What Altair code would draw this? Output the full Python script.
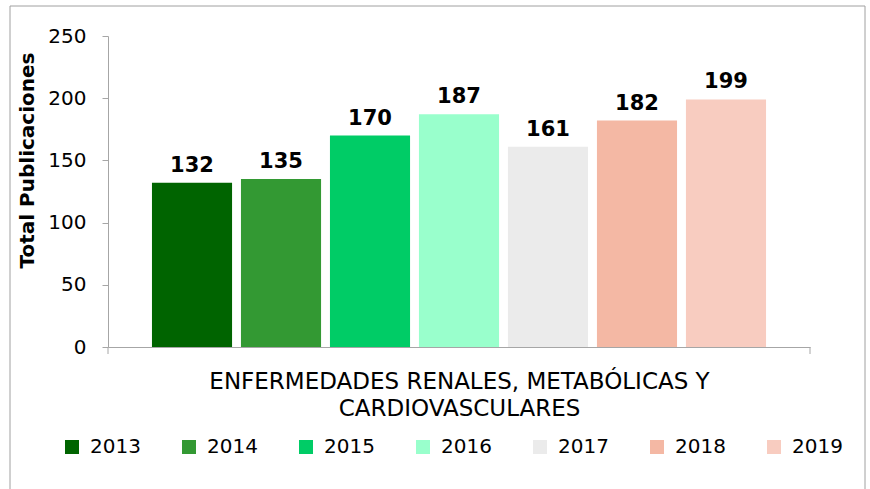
import altair as alt
import pandas as pd

years = ["2013", "2014", "2015", "2016", "2017", "2018", "2019"]
values = [132, 135, 170, 187, 161, 182, 199]
colors = ["#006400", "#339933", "#00CC66", "#99FFCC", "#EBEBEB", "#F4B8A4", "#F8CCC0"]
x_title = ["ENFERMEDADES RENALES, METABÓLICAS Y", "CARDIOVASCULARES"]
y_title = "Total Publicaciones"

df = pd.DataFrame({"Año": years, "Total": values})

FONT = "DejaVu Sans"

x_enc = alt.X(
    "Año:N",
    sort=years,
    scale=alt.Scale(paddingInner=0.1, paddingOuter=0.494),
    axis=alt.Axis(
        labels=False, ticks=False, title=x_title, titleFont=FONT, titleFontSize=23,
        titleFontWeight="normal", titleColor="#000000", titlePadding=23,
        titleLineHeight=27, domainColor="#A6A6A6", domainWidth=1,
    ),
)
y_enc = alt.Y(
    "Total:Q",
    scale=alt.Scale(domain=[0, 250], nice=False),
    axis=alt.Axis(
        values=[0, 50, 100, 150, 200, 250], title=y_title, titleFont=FONT,
        titleFontSize=20, titleFontWeight="bold", titleColor="#000000",
        titlePadding=10, titleY=124, labelFont=FONT, labelFontSize=20, labelColor="#000000",
        labelPadding=16, tickSize=6, tickColor="#A6A6A6", domainColor="#A6A6A6",
        grid=False,
    ),
)

bars = alt.Chart(df).mark_bar().encode(
    x=x_enc,
    y=y_enc,
    color=alt.Color(
        "Año:N",
        scale=alt.Scale(domain=years, range=colors),
        legend=alt.Legend(
            title=None, orient="none", legendX=-46, legendY=401, direction="horizontal",
            columns=7, symbolType="square", symbolSize=196, symbolStrokeWidth=0,
            labelFont=FONT, labelFontSize=20, labelColor="#000000", labelOffset=8,
            columnPadding=38,
        ),
    ),
)

labels = alt.Chart(df).mark_text(
    baseline="alphabetic", dy=-11, font=FONT, fontSize=21, fontWeight="bold", color="#000000"
).encode(x=alt.X("Año:N", sort=years), y="Total:Q", text="Total:Q")

border_color = "#A0A0A0"
left_border = alt.Chart(df.head(1)).mark_rule(color=border_color, strokeWidth=1).encode(
    x=alt.value(-98), y=alt.value(-30), y2=alt.value(460)
)
right_border = alt.Chart(df.head(1)).mark_rule(color=border_color, strokeWidth=1).encode(
    x=alt.value(757), y=alt.value(-30), y2=alt.value(460)
)
top_border = alt.Chart(df.head(1)).mark_rule(color=border_color, strokeWidth=1).encode(
    x=alt.value(-98), x2=alt.value(757), y=alt.value(-30)
)
tick_l = alt.Chart(df.head(1)).mark_rule(color="#A6A6A6", strokeWidth=1).encode(
    x=alt.value(0), y=alt.value(311), y2=alt.value(318)
)
tick_r = alt.Chart(df.head(1)).mark_rule(color="#A6A6A6", strokeWidth=1).encode(
    x=alt.value(702), y=alt.value(311), y2=alt.value(318)
)

chart = alt.layer(bars, labels, left_border, right_border, top_border, tick_l, tick_r).properties(
    width=702,
    height=311,
    autosize=alt.AutoSizeParams(type="none"),
    padding={"left": 108, "top": 36, "right": 60, "bottom": 142},
    background="#FFFFFF",
).configure_view(stroke=None)

chart.save("out.html", embed_options={"renderer": "svg", "actions": False})
